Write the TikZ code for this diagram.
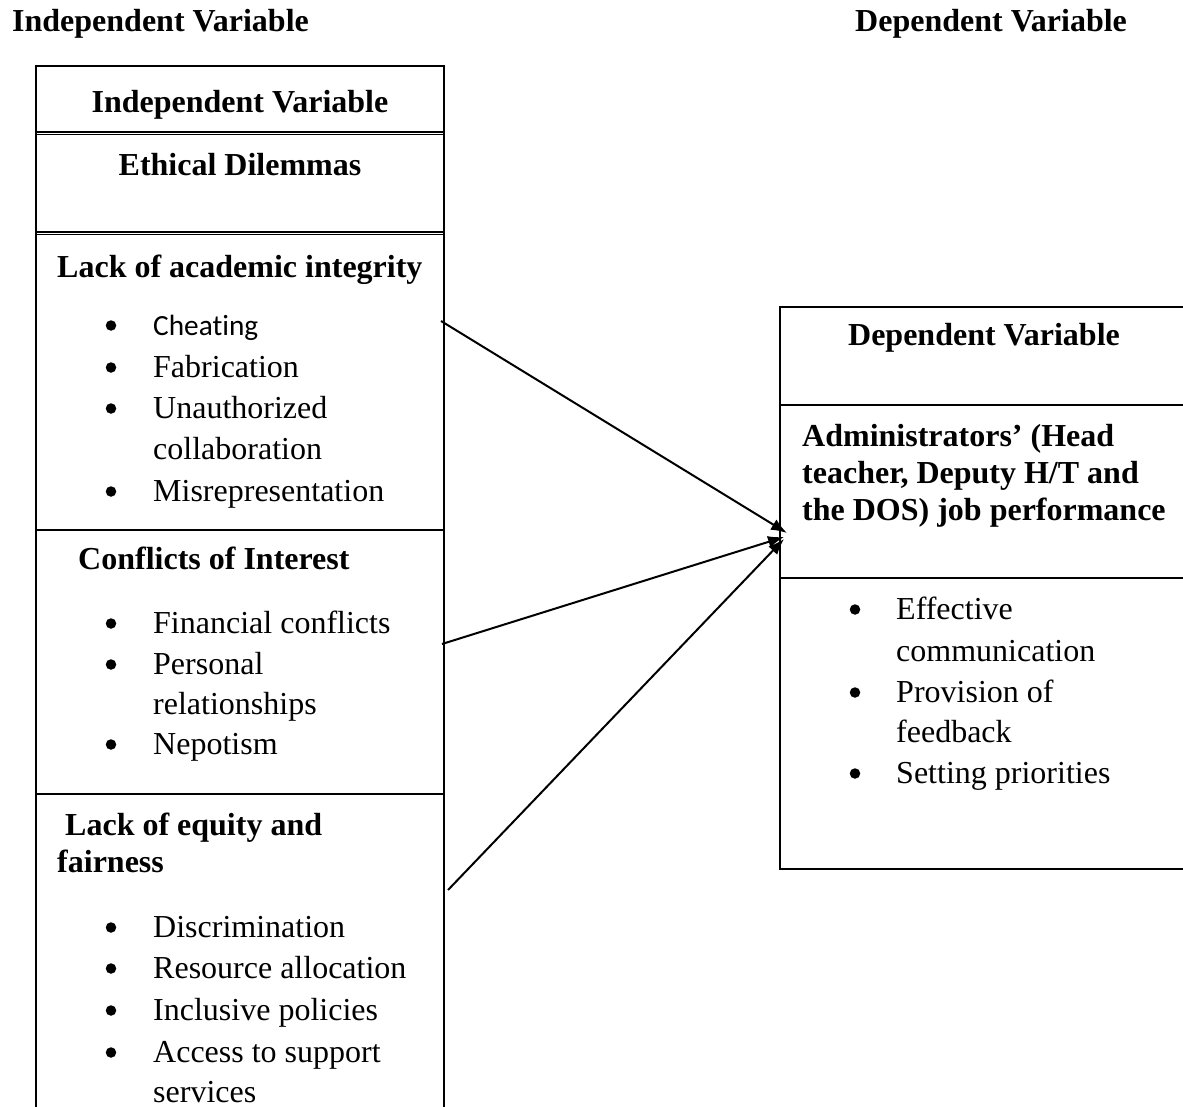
\documentclass[tikz,border=0pt]{standalone}
\usepackage{fontspec}
\setmainfont{Liberation Serif}
\newfontfamily\calib[Ligatures=NoCommon]{Carlito}
\usetikzlibrary{arrows.meta}
\begin{document}
\begin{tikzpicture}[x=1pt,y=-1pt,
  txt/.style={inner sep=0pt,anchor=base west,font=\fontsize{32}{40}\selectfont},
  hd/.style={txt,font=\fontsize{32}{40}\selectfont\bfseries},
  hdc/.style={hd,anchor=base},
  dot/.style={circle,fill=black,inner sep=0pt,minimum size=10.5pt},
  frame/.style={line width=1.6pt},
  conn/.style={line width=2pt,-{Latex[length=16pt,width=12pt]}}]
\useasboundingbox (0,0) rectangle (1183,1107);
% left column frames
\draw[frame] (36,1112) -- (36,66) -- (444,66) -- (444,1112);
\draw[frame] (36,132) -- (444,132);
\draw[frame] (36,134.6) -- (444,134.6);
\draw[frame] (36,232) -- (444,232);
\draw[frame] (36,234.6) -- (444,234.6);
\draw[frame] (36,530) -- (444,530);
\draw[frame] (36,794) -- (444,794);
% right column frames
\draw[frame] (1190,307) -- (780,307) -- (780,869) -- (1190,869);
\draw[frame] (780,405) -- (1190,405);
\draw[frame] (780,578) -- (1190,578);
% top headings
\node[hd] (tl) at (12,32) {Independent Variable};
\node[hd] (tr) at (855,32) {Dependent Variable};
% left texts
\node[hdc] (iv) at (240,113) {Independent Variable};
\node[hdc] (ed) at (240,176) {Ethical Dilemmas};
\node[hd] (lai) at (57,278) {Lack of academic integrity};
\node[txt,font=\fontsize{29.3}{36}\selectfont\calib] (t1) at (153,335) {Cheating};
\node[txt] (t2) at (153,377) {Fabrication};
\node[txt] (t3) at (153,418) {Unauthorized};
\node[txt] (t3b) at (153,459) {collaboration};
\node[txt] (t4) at (153,501) {Misrepresentation};
\node[hd] (coi) at (78,569) {Conflicts of Interest};
\node[txt] (t5) at (153,633) {Financial conflicts};
\node[txt] (t6) at (153,674) {Personal};
\node[txt] (t6b) at (153,714) {relationships};
\node[txt] (t7) at (153,754) {Nepotism};
\node[hd] (lef) at (65,835) {Lack of equity and};
\node[hd] (lef2) at (57,872) {fairness};
\node[txt] (t8) at (153,937) {Discrimination};
\node[txt] (t9) at (153,978) {Resource allocation};
\node[txt] (t10) at (153,1020) {Inclusive policies};
\node[txt] (t11) at (153,1062) {Access to support};
\node[txt] (t11b) at (153,1102) {services};
\foreach \n/\y in {b1/335,b2/377,b3/418,b4/501,b5/633,b6/674,b7/754,b8/937,b9/978,b10/1020,b11/1062}
  \node[dot] (\n) at (111,\y-9.5) {};
% right texts
\node[hdc] (dv) at (984,345) {Dependent Variable};
\node[hd] (a1) at (802,446) {Administrators’ (Head};
\node[hd] (a2) at (802,483) {teacher, Deputy H/T and};
\node[hd] (a3) at (802,520) {the DOS) job performance};
\node[txt] (r1) at (896,619) {Effective};
\node[txt] (r1b) at (896,661) {communication};
\node[txt] (r2) at (896,702) {Provision of};
\node[txt] (r2b) at (896,742) {feedback};
\node[txt] (r3) at (896,783) {Setting priorities};
\foreach \n/\y in {rb1/619,rb2/702,rb3/783}
  \node[dot] (\n) at (855,\y-9.5) {};
% connectors
\coordinate (s1) at (441,321);
\coordinate (s2) at (442,644);
\coordinate (s3) at (448,890);
\coordinate (e1) at (787,533);
\coordinate (e2) at (784,537);
\coordinate (e3) at (784,539);
\draw[conn] (s1) -- (e1);
\draw[conn] (s2) -- (e2);
\draw[conn] (s3) -- (e3);
\end{tikzpicture}
\end{document}
